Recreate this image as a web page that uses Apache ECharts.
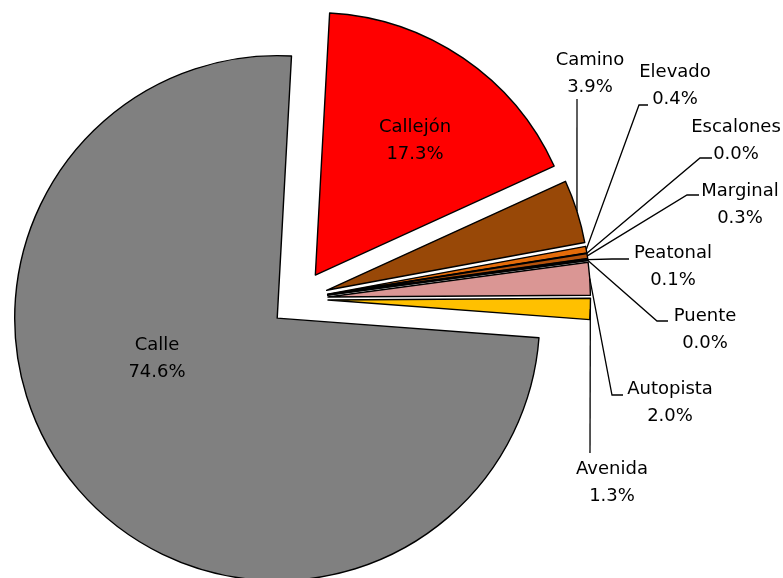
<!DOCTYPE html>
<html>
<head>
<meta charset="utf-8">
<script src="https://cdn.jsdelivr.net/npm/echarts@6/dist/echarts.min.js"></script>
<style>
  html, body { margin: 0; padding: 0; background: #fff; }
  #chart { width: 783px; height: 578px; }
</style>
</head>
<body>
<div id="chart"></div>
<script>
// datos (porcentaje por tipo de vía)
const tipos = ['Autopista', 'Avenida', 'Calle', 'Callejón', 'Camino', 'Elevado', 'Escalones', 'Marginal', 'Peatonal', 'Puente'];
const porcentajes = [2.0, 1.3, 74.6, 17.3, 3.9, 0.4, 0.0, 0.3, 0.1, 0.0];
const colores = ['#DA9694', '#FFC000', '#808080', '#FF0000', '#984807', '#E46C0A', '#000000', '#B4520C', '#000000', '#000000'];

// etiquetas dentro del sector
const dentro = ['Calle', 'Callejón'];

const CENTRO = [299, 299];
const RADIO = 262.5;
const SEPARACION = 29;

// posición de cada etiqueta (centro del bloque de texto)
const posEtiquetas = {
  'Autopista': [670, 403],
  'Avenida': [612, 483],
  'Calle': [157, 359],
  'Callejón': [415, 141],
  'Camino': [590, 74],
  'Elevado': [675, 86],
  'Escalones': [736, 141],
  'Marginal': [740, 205],
  'Peatonal': [673, 267],
  'Puente': [705, 330]
};

// tramo final de cada línea guía (junto a la etiqueta)
const tramoGuia = {
  'Autopista': [[612, 395], [623, 395]],
  'Avenida': [[590, 453], [590, 453]],
  'Camino': [[577, 99], [577, 99]],
  'Elevado': [[639, 105], [648, 105]],
  'Escalones': [[700, 158], [712, 158]],
  'Marginal': [[687, 195], [699, 195]],
  'Peatonal': [[612, 259], [629, 259]],
  'Puente': [[657, 321], [668, 321]]
};

const myChart = echarts.init(document.getElementById('chart'), null, {renderer: 'canvas'});

// punto medio del arco del sector ya separado, tomado del layout del pie
function inicioGuia(params) {
  let lay = null;
  try {
    lay = myChart.getModel().getSeriesByIndex(1).getData().getItemLayout(params.dataIndex);
  } catch (e) { lay = null; }
  if (lay && lay.r != null) {
    const mid = (lay.startAngle + lay.endAngle) / 2;
    const R = lay.r + SEPARACION;
    return [lay.cx + R * Math.cos(mid), lay.cy + R * Math.sin(mid)];
  }
  const pts = params.labelLinePoints;
  const dx = pts[0][0] - CENTRO[0];
  const dy = pts[0][1] - CENTRO[1];
  const d = Math.sqrt(dx * dx + dy * dy) || 1;
  return [pts[0][0] + dx / d * SEPARACION, pts[0][1] + dy / d * SEPARACION];
}

const comun = {
  type: 'pie',
  center: CENTRO,
  radius: RADIO,
  startAngle: 7.6,
  clockwise: true,
  avoidLabelOverlap: false,
  silent: true
};

const option = {
  animation: false,
  series: [
    // sectores separados
    Object.assign({}, comun, {
      z: 2,
      selectedMode: 'multiple',
      selectedOffset: SEPARACION,
      itemStyle: { borderColor: '#000', borderWidth: 1.4 },
      label: { show: false },
      labelLine: { show: false },
      data: tipos.map((t, i) => ({
        name: t,
        value: porcentajes[i],
        selected: true,
        itemStyle: { color: colores[i] }
      }))
    }),
    // capa invisible que lleva las etiquetas
    Object.assign({}, comun, {
      z: 5,
      itemStyle: { color: 'rgba(0,0,0,0)', borderWidth: 0 },
      label: {
        show: true,
        position: 'outside',
        fontFamily: 'DejaVu Sans',
        fontSize: 18,
        lineHeight: 27,
        color: '#000',
        formatter: p => p.name + '\n' + p.value.toFixed(1) + '%'
      },
      labelLine: {
        show: true,
        length: 10,
        length2: 10,
        lineStyle: { color: '#000', width: 1.3 }
      },
      labelLayout: function (params) {
        const nombre = tipos[params.dataIndex];
        const p = posEtiquetas[nombre];
        const res = { x: p[0], y: p[1], align: 'center', verticalAlign: 'middle' };
        const tramo = tramoGuia[nombre];
        if (tramo) {
          res.labelLinePoints = [inicioGuia(params), tramo[0], tramo[1]];
        }
        return res;
      },
      data: tipos.map((t, i) => ({
        name: t,
        value: porcentajes[i],
        label: dentro.includes(t) ? { position: 'inside', color: '#000' } : {},
        labelLine: dentro.includes(t) ? { show: false } : {}
      }))
    })
  ]
};

myChart.setOption(option);
</script>
</body>
</html>
